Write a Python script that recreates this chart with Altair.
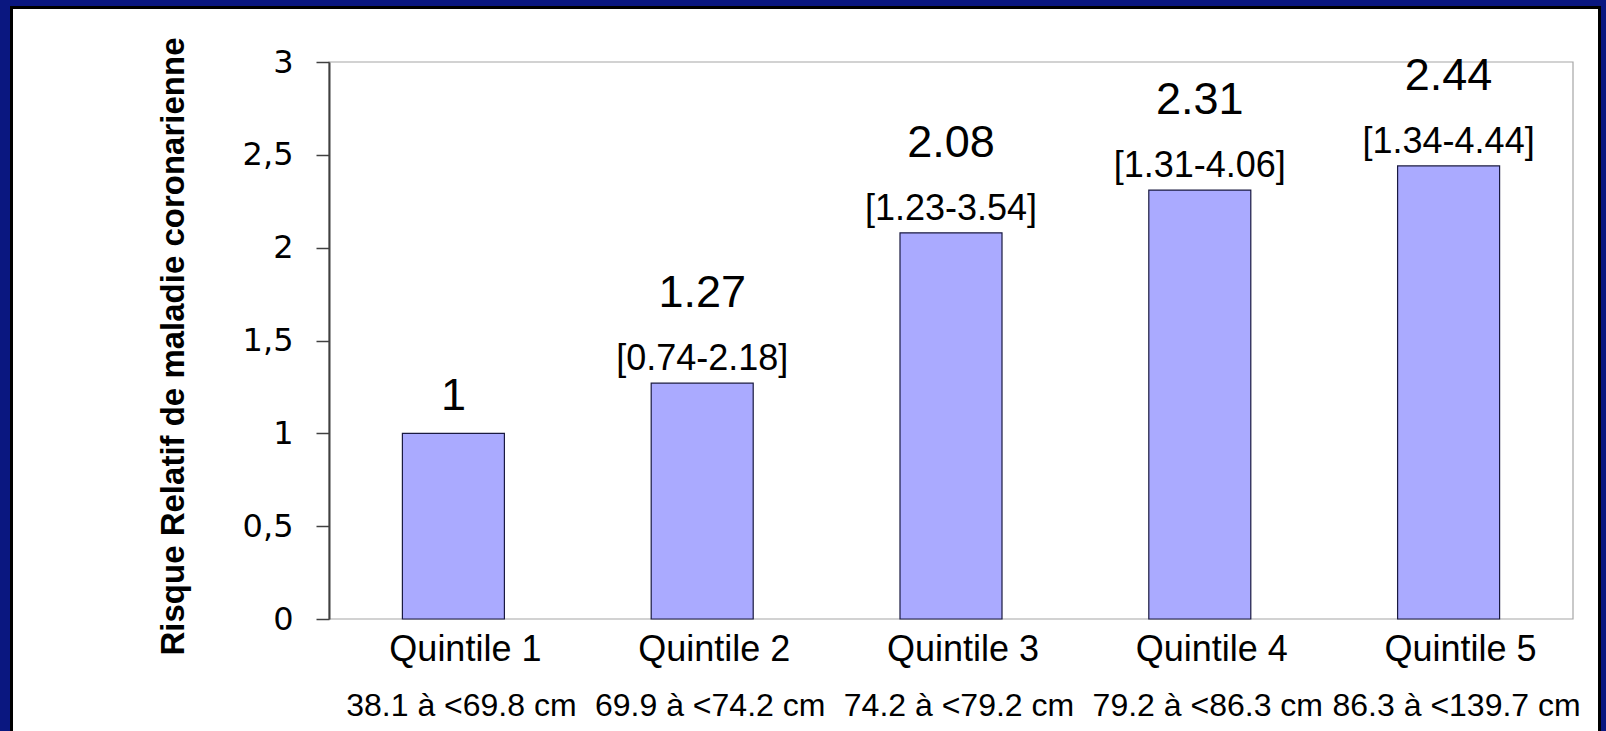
import altair as alt
import pandas as pd

quintiles = ["Quintile 1", "Quintile 2", "Quintile 3", "Quintile 4", "Quintile 5"]
ranges = ["38.1 à <69.8 cm", "69.9 à <74.2 cm", "74.2 à <79.2 cm", "79.2 à <86.3 cm", "86.3 à <139.7 cm"]
values = [1, 1.27, 2.08, 2.31, 2.44]
value_labels = ["1", "1.27", "2.08", "2.31", "2.44"]
ci_labels = ["", "[0.74-2.18]", "[1.23-3.54]", "[1.31-4.06]", "[1.34-4.44]"]
y_ticks = [0, 0.5, 1, 1.5, 2, 2.5, 3]

df = pd.DataFrame({
    "q": quintiles,
    "range": ranges,
    "rr": values,
    "lab": value_labels,
    "ci": ci_labels,
})
one = pd.DataFrame({"a": [0]})

W, H = 1244, 557
FONT = "Liberation Sans"

x_enc = alt.X(
    "q:N",
    sort=quintiles,
    scale=alt.Scale(paddingInner=0.59, paddingOuter=0.295),
    axis=alt.Axis(
        title=None, labelAngle=0, domain=False, ticks=False, tickSize=0,
        labelFont=FONT, labelFontSize=36, labelColor="black",
        labelPadding=13, labelOffset=12, zindex=1,
    ),
)
y_enc = alt.Y(
    "rr:Q",
    scale=alt.Scale(domain=[0, 3], nice=False),
    axis=alt.Axis(
        values=y_ticks, grid=False,
        labelExpr="replace(format(datum.value, '~g'), '.', ',')",
        labelFont="DejaVu Sans", labelFontSize=32, labelColor="black",
        labelPadding=23, tickSize=13, tickColor="#404040", tickWidth=1.5,
        domainColor="#404040", domainWidth=2,
        title="Risque Relatif de maladie coronarienne",
        titleFont=FONT, titleFontSize=33, titleFontWeight="bold",
        titleColor="black", titleAngle=270, titleX=-146, titleY=284,
        titleAlign="center", titleBaseline="alphabetic", zindex=1,
    ),
)

panel = alt.Chart(one).mark_rect(fill="white").encode(
    x=alt.value(-316), x2=alt.value(1269), y=alt.value(-53), y2=alt.value(700)
)
frame = alt.Chart(one).mark_rect(fillOpacity=0, stroke="#a6a6a6", strokeWidth=1.2).encode(
    x=alt.value(0), x2=alt.value(W), y=alt.value(0), y2=alt.value(H)
)

bars = alt.Chart(df).mark_bar(fill="#aaaaff", stroke="#1a1a40", strokeWidth=1.2).encode(
    x=x_enc, y=y_enc
)

val_ci = alt.Chart(df).transform_filter("datum.ci != ''").mark_text(
    font=FONT, fontSize=45, color="black", baseline="alphabetic", dy=-76
).encode(x=alt.X("q:N", sort=quintiles), y="rr:Q", text="lab:N")

ci_txt = alt.Chart(df).transform_filter("datum.ci != ''").mark_text(
    font=FONT, fontSize=36, color="black", baseline="alphabetic", dy=-13
).encode(x=alt.X("q:N", sort=quintiles), y="rr:Q", text="ci:N")

val_ref = alt.Chart(df).transform_filter("datum.ci == ''").mark_text(
    font=FONT, fontSize=45, color="black", baseline="alphabetic", dy=-23
).encode(x=alt.X("q:N", sort=quintiles), y="rr:Q", text="lab:N")

range_txt = alt.Chart(df).mark_text(
    font=FONT, fontSize=32, color="black", baseline="alphabetic", dx=8
).encode(x=alt.X("q:N", sort=quintiles), y=alt.value(H + 97), text="range:N")

border = alt.Chart(one).mark_rect(fillOpacity=0, stroke="black", strokeWidth=3).encode(
    x=alt.value(-317.5), x2=alt.value(1270.5), y=alt.value(-54.5), y2=alt.value(720)
)

chart = alt.layer(
    panel, frame, bars, val_ci, ci_txt, val_ref, range_txt, border
).properties(
    width=W, height=H,
    autosize=alt.AutoSizeParams(type="none"),
    padding={"left": 329, "top": 62, "right": 33, "bottom": 112},
    background="#0a1780",
).configure_view(stroke=None)

chart.save("out.html", embed_options={"renderer": "svg", "actions": False})
